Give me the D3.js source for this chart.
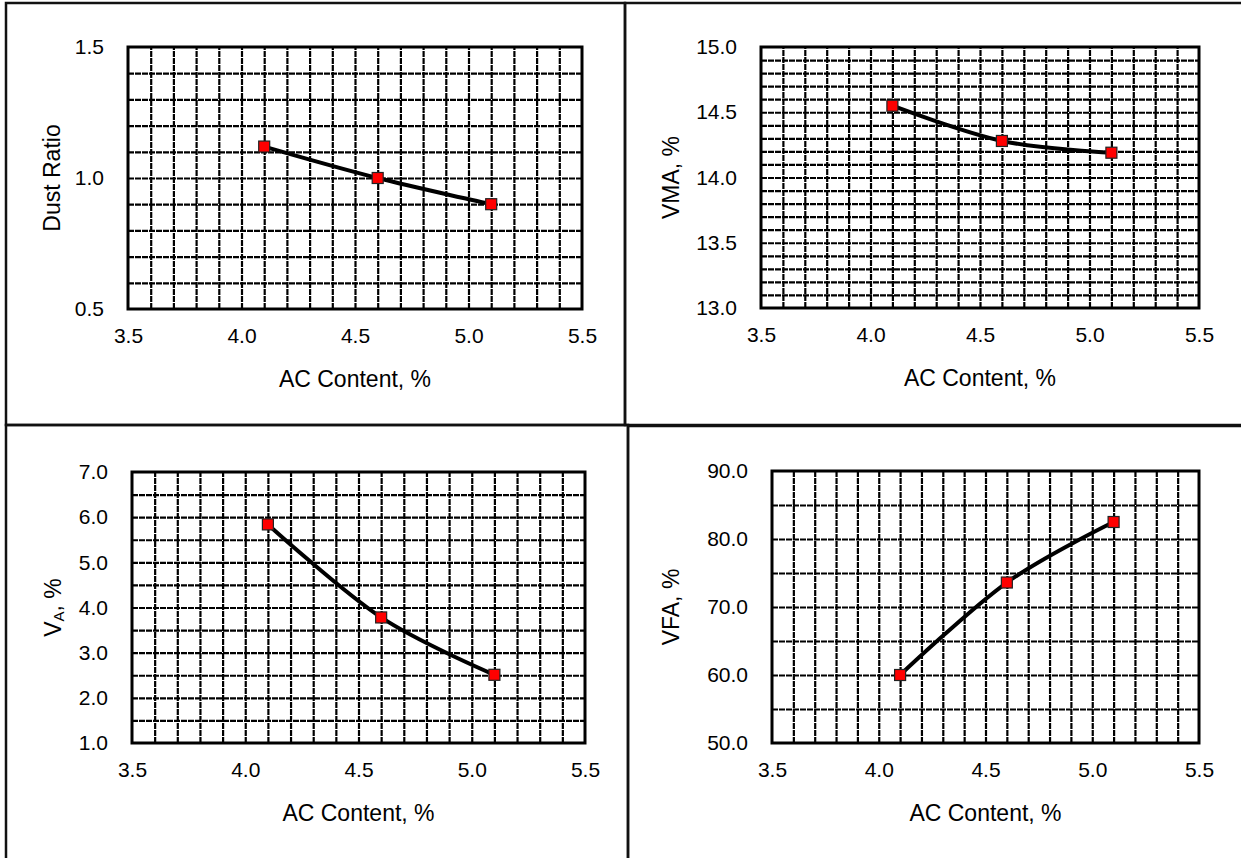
<!DOCTYPE html>
<html>
<head>
<meta charset="utf-8">
<script src="https://cdn.jsdelivr.net/npm/d3@7"></script>
<style>
  html, body { margin: 0; padding: 0; background: #fff; }
  svg { display: block; }
  text { font-family: "Liberation Sans", Arial, sans-serif; fill: #000; }
</style>
</head>
<body>
<svg id="chart"></svg>
<script>
const width = 1241;
const height = 858;

// data
const acContent = [4.1, 4.6, 5.1];
const dustRatio = [1.12, 1.00, 0.90];
const vma = [14.55, 14.28, 14.19];
const airVoids = [5.84, 3.78, 2.51];
const vfa = [60.0, 73.6, 82.5];

// tick labels
const xTicks = [3.5, 4.0, 4.5, 5.0, 5.5];
const dustTicks = [0.5, 1.0, 1.5];
const vmaTicks = [13.0, 13.5, 14.0, 14.5, 15.0];
const vaTicks = [1.0, 2.0, 3.0, 4.0, 5.0, 6.0, 7.0];
const vfaTicks = [50.0, 60.0, 70.0, 80.0, 90.0];

const svg = d3.select("#chart")
  .attr("width", width)
  .attr("height", height)
  .attr("viewBox", [0, 0, width, height]);

// panel frames
const frames = [
  { x: 6, y: 3, w: 619, h: 422 },
  { x: 625, y: 3, w: 620, h: 422 },
  { x: 6, y: 425, w: 622, h: 436 },
  { x: 628, y: 426, w: 617, h: 435 }
];
svg.selectAll("rect.frame")
  .data(frames)
  .join("rect")
  .attr("class", "frame")
  .attr("x", d => d.x)
  .attr("y", d => d.y)
  .attr("width", d => d.w)
  .attr("height", d => d.h)
  .attr("fill", "none")
  .attr("stroke", "#111")
  .attr("stroke-width", 2.5);

const panels = [
  { values: dustRatio, yTicks: dustTicks, yStep: 0.1, title: "Dust Ratio",
    box: { left: 128, top: 47, right: 582, bottom: 309 }, titleX: 52 },
  { values: vma, yTicks: vmaTicks, yStep: 0.1, title: "VMA, %",
    box: { left: 761, top: 47, right: 1199, bottom: 308 }, titleX: 671 },
  { values: airVoids, yTicks: vaTicks, yStep: 0.5, title: "VA",
    box: { left: 132, top: 472, right: 585, bottom: 743 }, titleX: 53 },
  { values: vfa, yTicks: vfaTicks, yStep: 5, title: "VFA, %",
    box: { left: 772, top: 471, right: 1199, bottom: 743 }, titleX: 671 }
];

panels.forEach(p => {
  const b = p.box;
  const g = svg.append("g");

  const x = d3.scaleLinear()
    .domain([xTicks[0], xTicks[xTicks.length - 1]])
    .range([b.left, b.right]);

  const y = d3.scaleLinear()
    .domain([p.yTicks[0], p.yTicks[p.yTicks.length - 1]])
    .range([b.bottom, b.top]);

  // grid
  const xGrid = d3.range(1, 20).map(i => x.domain()[0] + i * 0.1);
  const nY = Math.round((y.domain()[1] - y.domain()[0]) / p.yStep);
  const yGrid = d3.range(1, nY).map(i => y.domain()[0] + i * p.yStep);

  g.append("g")
    .attr("transform", `translate(0,${b.bottom})`)
    .call(d3.axisBottom(x).tickValues(xGrid).tickSize(-(b.bottom - b.top)).tickFormat(""))
    .call(a => a.select(".domain").remove())
    .selectAll("line")
    .attr("stroke", "#000")
    .attr("stroke-width", 2.2)
    .attr("stroke-dasharray", "6,1");

  g.append("g")
    .attr("transform", `translate(${b.left},0)`)
    .call(d3.axisLeft(y).tickValues(yGrid).tickSize(-(b.right - b.left)).tickFormat(""))
    .call(a => a.select(".domain").remove())
    .selectAll("line")
    .attr("stroke", "#000")
    .attr("stroke-width", 2.2)
    .attr("stroke-dasharray", "6,1");

  // plot frame
  g.append("rect")
    .attr("x", b.left)
    .attr("y", b.top)
    .attr("width", b.right - b.left)
    .attr("height", b.bottom - b.top)
    .attr("fill", "none")
    .attr("stroke", "#000")
    .attr("stroke-width", 3);

  // x tick labels
  g.append("g")
    .attr("transform", `translate(0,${b.bottom})`)
    .call(d3.axisBottom(x).tickValues(xTicks).tickSize(0).tickPadding(0).tickFormat(d3.format(".1f")))
    .call(a => a.select(".domain").remove())
    .selectAll("text")
    .attr("y", 34)
    .attr("dy", null)
    .style("font-family", "'Liberation Sans', Arial, sans-serif")
    .style("font-size", "21px")
    .attr("fill", "#000");

  // y tick labels
  g.append("g")
    .attr("transform", `translate(${b.left},0)`)
    .call(d3.axisLeft(y).tickValues(p.yTicks).tickSize(0).tickPadding(24).tickFormat(d3.format(".1f")))
    .call(a => a.select(".domain").remove())
    .selectAll("text")
    .style("font-family", "'Liberation Sans', Arial, sans-serif")
    .style("font-size", "21px")
    .attr("fill", "#000");

  // axis titles
  g.append("text")
    .attr("x", (b.left + b.right) / 2)
    .attr("y", b.bottom + 78)
    .attr("text-anchor", "middle")
    .style("font-size", "23px")
    .text("AC Content, %");

  const yt = g.append("text")
    .attr("transform", `translate(${p.titleX + 8},${(b.top + b.bottom) / 2}) rotate(-90)`)
    .attr("text-anchor", "middle")
    .style("font-size", "23px");
  if (p.title === "VA") {
    yt.append("tspan").text("V");
    yt.append("tspan").attr("dy", 3).style("font-size", "15px").text("A");
    yt.append("tspan").attr("dy", -3).text(", %");
  } else {
    yt.text(p.title);
  }

  // smoothed line (Excel-style)
  const pts = acContent.map((c, i) => [c, p.values[i]]);
  const line = d3.line()
    .x(d => x(d[0]))
    .y(d => y(d[1]))
    .curve(d3.curveCardinal.tension(0));

  g.append("path")
    .datum(pts)
    .attr("fill", "none")
    .attr("stroke", "#000")
    .attr("stroke-width", 4)
    .attr("d", line);

  // markers
  g.selectAll("rect.marker")
    .data(pts)
    .join("rect")
    .attr("class", "marker")
    .attr("x", d => x(d[0]) - 5.5)
    .attr("y", d => y(d[1]) - 5.5)
    .attr("width", 11)
    .attr("height", 11)
    .attr("fill", "#ff0000")
    .attr("stroke", "#222")
    .attr("stroke-width", 1.2);
});
</script>
</body>
</html>
